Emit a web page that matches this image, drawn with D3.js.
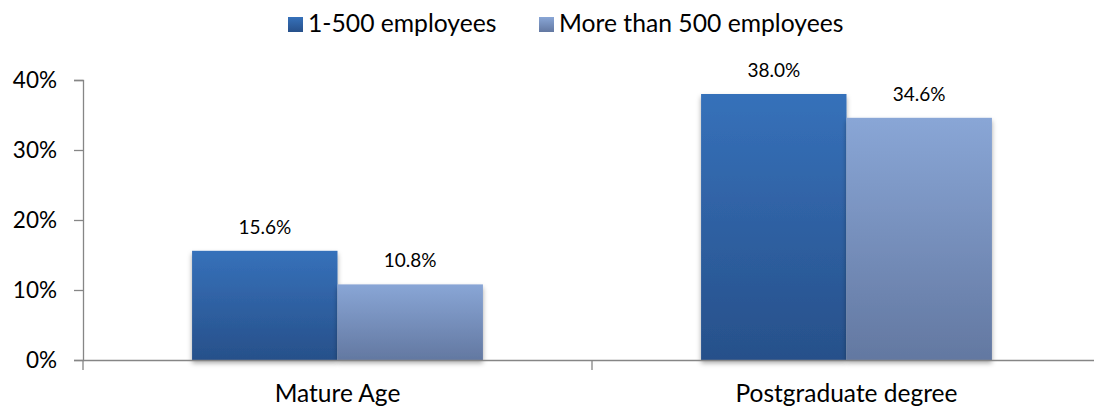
<!DOCTYPE html>
<html><head><meta charset="utf-8">
<script src="https://cdn.jsdelivr.net/npm/d3@7"></script>
<style>body{margin:0;background:#fff}svg{display:block}text{font-family:Lato,"Open Sans",sans-serif;fill:#000}</style>
</head><body><svg id="c" width="1094" height="410"></svg>
<script>
const categories = ["Mature Age", "Postgraduate degree"];
const seriesNames = ["1-500 employees", "More than 500 employees"];
const small = [15.6, 38.0];
const large = [10.8, 34.6];
const yTicks = [0, 10, 20, 30, 40];

const svg = d3.select("#c");
const W = 1094, H = 410;
const m = {left: 83, right: -7, top: 80, bottom: 50};
const x0 = d3.scaleBand().domain(categories).range([m.left, W - m.right]).paddingInner(0).paddingOuter(0);
const x1 = d3.scaleBand().domain(seriesNames).range([0, x0.bandwidth()]).paddingOuter(0.75).paddingInner(0);
const y = d3.scaleLinear().domain([0, 40]).range([360, 80]);

const defs = svg.append("defs");
const grads = [["g0", "#3671ba", "#27508a"], ["g1", "#89a6d6", "#6378a1"]];
grads.forEach(([id, a, b]) => {
  const g = defs.append("linearGradient").attr("id", id).attr("x1", 0).attr("y1", 0).attr("x2", 0).attr("y2", 1);
  g.append("stop").attr("offset", "0%").attr("stop-color", a);
  g.append("stop").attr("offset", "100%").attr("stop-color", b);
});
const f = defs.append("filter").attr("id", "sh").attr("x", "-10%").attr("y", "-10%").attr("width", "120%").attr("height", "130%");
f.append("feDropShadow").attr("dx", 0).attr("dy", 3).attr("stdDeviation", 2.5).attr("flood-color", "#000").attr("flood-opacity", 0.35);

const data = categories.map((c, i) => ({c, vals: [small[i], large[i]]}));

// bars
const gBars = svg.append("g");
data.forEach(d => {
  d.vals.forEach((v, j) => {
    const xx = x0(d.c) + x1(seriesNames[j]);
    gBars.append("rect").attr("x", xx).attr("y", y(v)).attr("width", x1.bandwidth()).attr("height", y(0) - y(v))
      .attr("fill", `url(#g${j})`).attr("filter", "url(#sh)");
    svg.append("text").attr("x", xx + x1.bandwidth() / 2).attr("y", y(v) - 17)
      .attr("text-anchor", "middle").style("font-size", "19px").text(v.toFixed(1) + "%");
  });
});

// y axis
const yAxis = svg.append("g").attr("transform", `translate(${m.left},0)`)
  .call(d3.axisLeft(y).tickValues(yTicks).tickFormat(d => d + "%").tickSize(9).tickPadding(17));
yAxis.select(".domain").attr("stroke", "#868686").attr("stroke-width", 1.3);
yAxis.selectAll(".tick line").attr("stroke", "#868686").attr("stroke-width", 1.3);
yAxis.selectAll(".tick text").style("font-size", "22.5px").attr("fill", "#000");

// x axis
const xAxis = svg.append("g").attr("transform", `translate(0,${y(0)})`)
  .call(d3.axisBottom(x0).tickSize(0).tickPadding(25));
xAxis.select(".domain").attr("stroke", "#868686").attr("stroke-width", 1.3);
xAxis.selectAll(".tick text").style("font-size", "24.5px").attr("fill", "#000");
// category boundary ticks
const bounds = [x0.range()[0], x0(categories[1])];
svg.append("g").selectAll("line").data(bounds).join("line")
  .attr("x1", d => d).attr("x2", d => d).attr("y1", y(0)).attr("y2", y(0) + 10)
  .attr("stroke", "#868686").attr("stroke-width", 1.3);

// legend
const legX = [288, 539];
const lg = svg.append("g");
seriesNames.forEach((s, j) => {
  lg.append("rect").attr("x", legX[j]).attr("y", 17).attr("width", 15).attr("height", 15).attr("fill", `url(#g${j})`);
  lg.append("text").attr("x", legX[j] + 20).attr("y", 32).style("font-size", "24.7px").text(s);
});
</script></body></html>
